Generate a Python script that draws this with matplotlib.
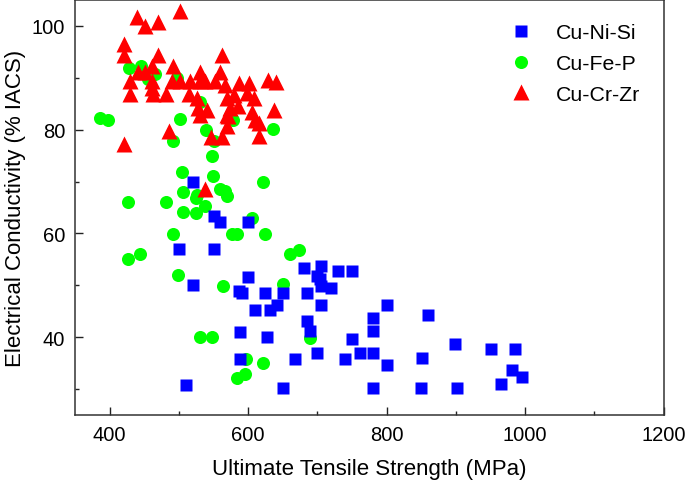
import matplotlib
matplotlib.use('Agg')
import matplotlib.pyplot as plt
from matplotlib.ticker import MultipleLocator

plt.rcParams['font.family'] = ['Liberation Sans', 'DejaVu Sans']

# Cu-Ni-Si (blue squares)
ni_si_uts = [520, 550, 560, 600, 500, 550, 520, 600, 587, 591, 625, 651, 685, 641,
             610, 631, 681, 705, 700, 703, 705, 719, 730, 750, 705, 685, 689, 588,
             627, 667, 700, 588, 651, 740, 750, 761, 780, 780, 780, 780, 800, 800,
             851, 850, 860, 898, 901, 950, 985, 981, 995, 965, 510]
ni_si_ec = [70, 63.3, 62.2, 62.2, 57, 57, 50, 51.7, 48.9, 48.5, 48.6, 48.6, 48.5, 46.3,
            45.2, 45.2, 53.4, 53.8, 51.8, 51.2, 49.8, 49.5, 52.8, 52.8, 46.3, 43.1, 41.2, 41,
            40, 35.8, 36.9, 35.8, 30.3, 35.8, 39.7, 36.9, 36.9, 43.8, 41.2, 30.3, 46.3, 34.7,
            36.1, 30.3, 44.2, 38.8, 30.3, 37.8, 37.7, 33.7, 32.4, 31, 30.8]

# Cu-Fe-P (green circles)
fe_p_uts = [386, 398, 428, 445, 455, 466, 497, 502, 491, 531, 539, 551, 548, 505,
            549, 506, 526, 567, 569, 560, 578, 636, 622, 426, 482, 525, 538, 506,
            525, 492, 576, 584, 426, 444, 498, 563, 605, 624, 660, 673, 650, 530,
            548, 584, 595, 597, 622, 689]
fe_p_ec = [82.2, 81.9, 91.9, 92.2, 89.8, 90.7, 89.9, 82, 77.9, 85.3, 80, 77.8, 75, 71.9,
           71, 68, 67.5, 68.1, 67.2, 68.5, 81.8, 80.2, 69.9, 66.1, 66, 66.8, 65.3, 64.1,
           64, 59.9, 59.9, 59.9, 55, 56, 52, 49.9, 63, 59.9, 56, 56.9, 50.2, 40,
           40, 32.1, 32.9, 35.8, 35.1, 39.9]

# Cu-Cr-Zr (red triangles)
cr_zr_uts = [440, 451, 470, 501, 421, 421, 470, 562, 491, 531, 461, 441, 451, 430,
             430, 461, 461, 463, 482, 490, 502, 516, 514, 530, 526, 528, 540, 531,
             552, 560, 567, 569, 485, 547, 562, 421, 538, 587, 601, 629, 640, 598,
             579, 569, 608, 574, 586, 605, 637, 571, 610, 615, 569, 615, 538]
cr_zr_ec = [101.8, 99.9, 100.7, 102.9, 96.5, 94.4, 94.4, 94.4, 92.2, 91.2, 92.2, 91.2, 91.2, 89.3,
            86.9, 89.3, 88, 86.9, 86.9, 89.3, 89.3, 89.3, 86.9, 89.3, 86.1, 84.2, 83.8, 82.9,
            89.3, 91.2, 88.6, 82.9, 79.7, 78.6, 78.6, 77.3, 89.3, 89, 89, 89.6, 89.1, 87.1,
            86.7, 86.1, 86.1, 84.2, 84.5, 83.5, 83.8, 82.6, 81.9, 81.3, 80.7, 78.7, 68.6]

fig = plt.figure(figsize=(6.85, 4.85), dpi=100)
ax = fig.add_axes([0.1095, 0.142, 0.8595, 0.856])

h_fe, = ax.plot(fe_p_uts, fe_p_ec, 'o', color='#00ff00', ms=9.4, mec='none', zorder=2, label='Cu-Fe-P')
h_ni, = ax.plot(ni_si_uts, ni_si_ec, 's', color='#0000ff', ms=8.6, mec='none', zorder=3, label='Cu-Ni-Si')
h_cr, = ax.plot(cr_zr_uts, cr_zr_ec, '^', color='#ff0000', ms=11, mec='none', zorder=4, label='Cu-Cr-Zr')

ax.set_xlim(350, 1200)
ax.set_ylim(25, 105)
ax.xaxis.set_major_locator(MultipleLocator(200))
ax.xaxis.set_minor_locator(MultipleLocator(100))
ax.yaxis.set_major_locator(MultipleLocator(20))
ax.yaxis.set_minor_locator(MultipleLocator(10))
ax.tick_params(which='both', direction='in', labelsize=14.5, width=1, colors='#222222')
ax.tick_params(which='major', length=5.5, pad=7)
ax.tick_params(which='minor', length=3)
ax.tick_params(axis='both', labelcolor='black')
for s in ax.spines.values():
    s.set_linewidth(1.1)
    s.set_color('#333333')

ax.set_xlabel('Ultimate Tensile Strength (MPa)', fontsize=16, labelpad=10)
ax.set_ylabel('Electrical Conductivity (% IACS)', fontsize=16, labelpad=4)

ax.legend(handles=[h_ni, h_fe, h_cr], loc='upper right', frameon=False, fontsize=15.3,
          handletextpad=0.9, labelspacing=0.55, borderaxespad=0.7, handlelength=1.5)

fig.savefig('out.png', dpi=100)
